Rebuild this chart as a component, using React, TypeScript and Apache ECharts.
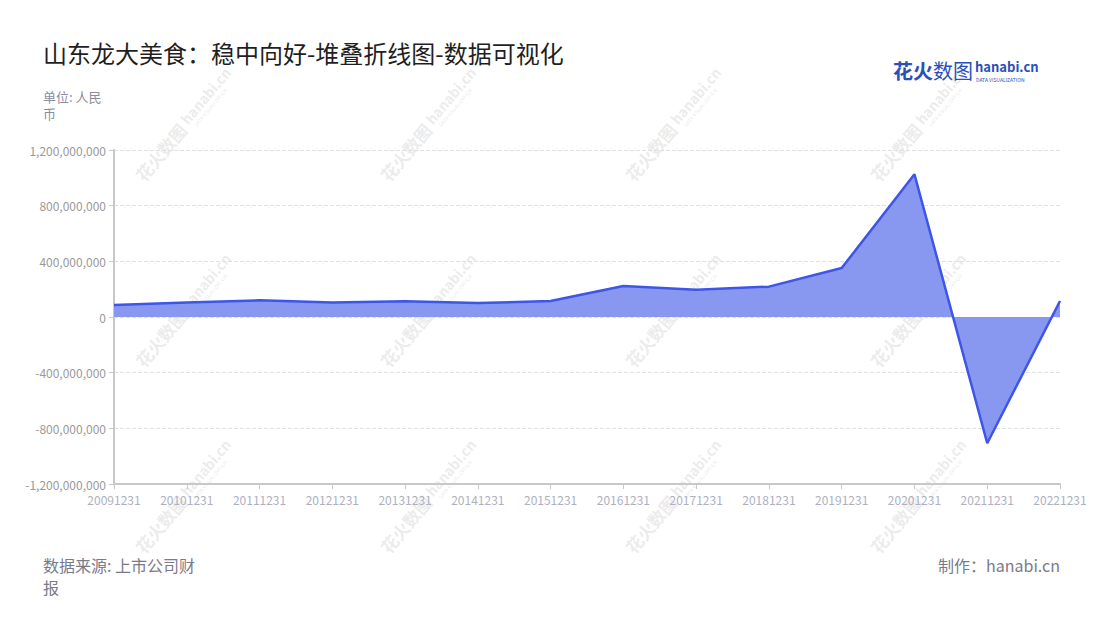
import React, { useEffect, useRef } from "react";
import * as echarts from "echarts";

const categories = [
  "20091231", "20101231", "20111231", "20121231", "20131231", "20141231", "20151231",
  "20161231", "20171231", "20181231", "20191231", "20201231", "20211231", "20221231",
];
const profitValues = [
  86000000, 105000000, 120000000, 105000000, 113000000, 100000000, 115000000,
  223000000, 196000000, 218000000, 352000000, 1025000000, -907000000, 115000000,
];
const seriesName = "净利润";
const titleText = "山东龙大美食：稳中向好-堆叠折线图-数据可视化";
const unitText = "单位: 人民\n币";
const sourceLines = ["数据来源: 上市公司财", "报"];
const makerText = "制作：hanabi.cn";

const FONT = "'Noto Sans CJK SC', 'Noto Sans', sans-serif";

function watermarks() {
  const items: any[] = [];
  for (let j = 0; j < 3; j++) {
    for (let k = 0; k < 4; k++) {
      items.push({
        type: "group",
        x: 185 + 245 * k,
        y: 123 + 186 * j,
        rotation: (50 * Math.PI) / 180,
        silent: true,
        z: 0,
        children: [
          {
            type: "text",
            x: -72,
            y: 0,
            style: {
              text: "花火数图",
              font: `bold 17px ${FONT}`,
              fill: "rgba(205,205,205,0.4)",
              verticalAlign: "middle",
            },
          },
          {
            type: "text",
            x: 0,
            y: -2,
            style: {
              text: "hanabi.cn",
              font: `bold 14px ${FONT}`,
              fill: "rgba(205,205,205,0.4)",
              verticalAlign: "middle",
            },
          },
          {
            type: "text",
            x: 4,
            y: 9,
            style: {
              text: "DATA VISUALIZATION",
              font: `5px ${FONT}`,
              fill: "rgba(205,205,205,0.45)",
              verticalAlign: "middle",
            },
          },
        ],
      });
    }
  }
  return items;
}

export default function App() {
  const ref = useRef<HTMLDivElement>(null);

  useEffect(() => {
    document.body.style.margin = "0";
    if (!ref.current) return;
    const chart = echarts.init(ref.current, undefined, { renderer: "svg" });
    chart.setOption({
      animation: false,
      backgroundColor: "#ffffff",
      grid: { left: 114, right: 40, top: 150, bottom: 136 },
      xAxis: {
        type: "category",
        data: categories,
        boundaryGap: false,
        axisLine: { onZero: false, lineStyle: { color: "#c8c8c8", width: 2 } },
        axisTick: { show: true, lineStyle: { color: "#c8c8c8" } },
        axisLabel: {
          color: "#aeb0c0",
          fontSize: 12,
          fontFamily: FONT,
          margin: 9,
          interval: 0,
        },
      },
      yAxis: {
        type: "value",
        min: -1200000000,
        max: 1200000000,
        interval: 400000000,
        axisLine: { show: true, lineStyle: { color: "#c8c8c8", width: 2 } },
        axisTick: { show: true, lineStyle: { color: "#c8c8c8" } },
        axisLabel: {
          color: "#9a9a9a",
          fontSize: 12,
          fontFamily: FONT,
          margin: 8,
          formatter: (v: number) => v.toLocaleString("en-US"),
        },
        splitLine: { lineStyle: { color: "#e0e0e0", type: "dashed" } },
      },
      series: [
        {
          name: seriesName,
          type: "line",
          stack: "total",
          data: profitValues,
          symbol: "none",
          lineStyle: { color: "#3d55e8", width: 2.5 },
          itemStyle: { color: "#3d55e8" },
          areaStyle: { color: "#8898f0", opacity: 1 },
          z: 3,
        },
      ],
      graphic: [
        ...watermarks(),
        {
          type: "text",
          left: 43,
          top: 40,
          style: {
            text: titleText,
            font: `24px ${FONT}`,
            fill: "#1f1f1f",
          },
        },
        {
          type: "text",
          left: 43,
          top: 88,
          style: {
            text: unitText,
            font: `13px ${FONT}`,
            lineHeight: 17,
            fill: "#8c8c9c",
          },
        },
        {
          type: "text",
          left: 893,
          top: 60,
          style: {
            text: "花火",
            font: `bold 20px ${FONT}`,
            fill: "#2a4fb8",
          },
        },
        {
          type: "text",
          left: 933,
          top: 60,
          style: {
            text: "数图",
            font: `20px ${FONT}`,
            fill: "#2a4fb8",
          },
        },
        {
          type: "text",
          left: 975,
          top: 60,
          style: {
            text: "hanabi.cn",
            font: `bold 13px ${FONT}`,
            fill: "#2a4fb8",
          },
        },
        {
          type: "text",
          left: 976,
          top: 77,
          style: {
            text: "DATA VISUALIZATION",
            font: `5px ${FONT}`,
            fill: "#2a4fb8",
          },
        },
        {
          type: "text",
          left: 43,
          top: 557,
          style: {
            text: sourceLines[0],
            font: `16px ${FONT}`,
            fill: "#7a7a8a",
          },
        },
        {
          type: "text",
          left: 43,
          top: 579,
          style: {
            text: sourceLines[1],
            font: `16px ${FONT}`,
            fill: "#7a7a8a",
          },
        },
        {
          type: "text",
          right: 40,
          top: 557,
          style: {
            text: makerText,
            font: `16px ${FONT}`,
            fill: "#7a7a8a",
          },
        },
      ],
    });
    return () => chart.dispose();
  }, []);

  return <div ref={ref} style={{ width: 1100, height: 620 }} />;
}
